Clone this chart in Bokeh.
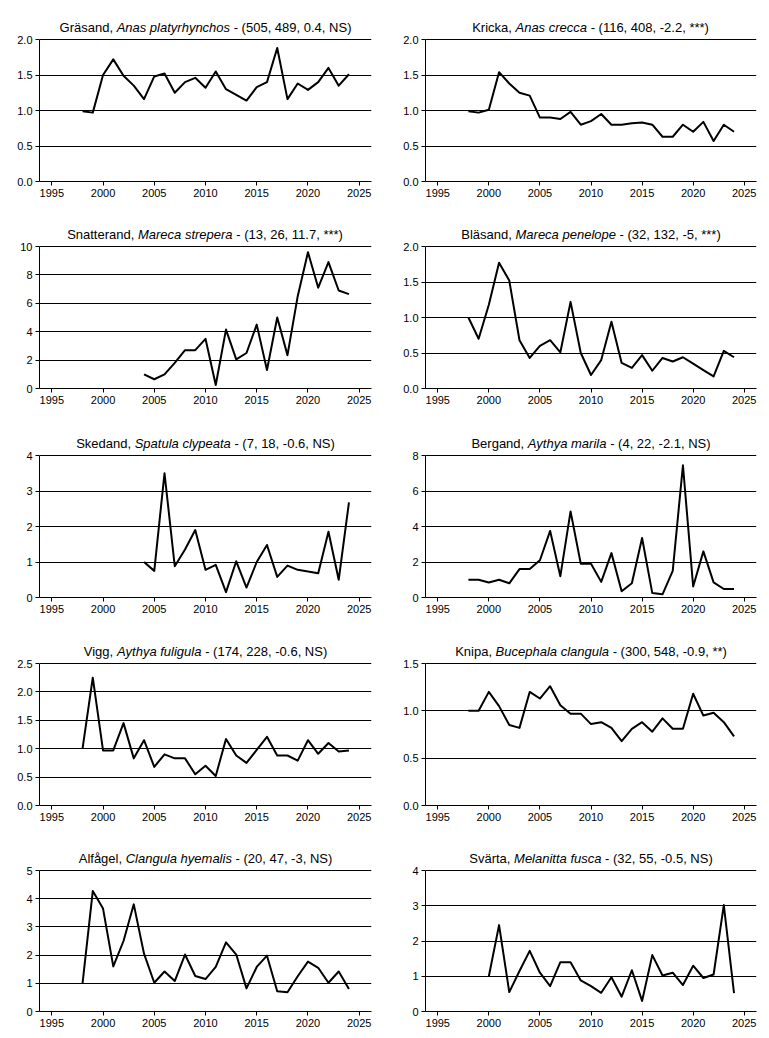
from bokeh.plotting import figure
from bokeh.layouts import gridplot
from bokeh.models import Range1d, FixedTicker, PrintfTickFormatter
from bokeh.core.properties import value
from bokeh.embed import file_html
from bokeh.resources import INLINE

# ---------------- data ----------------
years_98 = list(range(1998, 2025))
years_04 = list(range(2004, 2025))
years_00 = list(range(2000, 2025))

grasand = [0.99, 0.97, 1.50, 1.72, 1.49, 1.35, 1.16, 1.48, 1.52, 1.25, 1.40, 1.46, 1.32, 1.55,
           1.30, 1.22, 1.14, 1.33, 1.40, 1.88, 1.16, 1.38, 1.29, 1.40, 1.60, 1.35, 1.51]
kricka = [0.99, 0.97, 1.01, 1.54, 1.38, 1.25, 1.21, 0.90, 0.90, 0.88, 0.98, 0.80, 0.85, 0.95,
          0.80, 0.80, 0.82, 0.83, 0.80, 0.63, 0.63, 0.80, 0.70, 0.84, 0.57, 0.80, 0.70]
snatterand = [1.0, 0.65, 1.0, 1.8, 2.7, 2.7, 3.5, 0.25, 4.15, 2.05, 2.5, 4.5, 1.3, 5.0,
              2.35, 6.5, 9.6, 7.1, 8.9, 6.9, 6.65]
blasand = [1.0, 0.70, 1.18, 1.77, 1.52, 0.68, 0.43, 0.60, 0.68, 0.51, 1.22, 0.50, 0.19, 0.40,
           0.94, 0.36, 0.29, 0.47, 0.25, 0.43, 0.38, 0.44, 0.35, 0.26, 0.17, 0.53, 0.44]
skedand = [1.0, 0.75, 3.5, 0.88, 1.35, 1.9, 0.78, 0.92, 0.15, 1.02, 0.28, 1.0, 1.48, 0.58,
           0.90, 0.78, 0.73, 0.68, 1.85, 0.50, 2.68]
bergand = [1.0, 1.0, 0.85, 1.0, 0.8, 1.6, 1.6, 2.1, 3.75, 1.2, 4.85, 1.9, 1.9, 0.88,
           2.5, 0.35, 0.8, 3.35, 0.25, 0.18, 1.5, 7.45, 0.62, 2.6, 0.85, 0.48, 0.48]
vigg = [1.0, 2.25, 0.97, 0.97, 1.45, 0.83, 1.15, 0.68, 0.90, 0.83, 0.83, 0.55, 0.70, 0.52,
        1.17, 0.88, 0.75, 0.98, 1.21, 0.88, 0.88, 0.79, 1.15, 0.91, 1.10, 0.95, 0.97]
knipa = [1.0, 1.0, 1.20, 1.05, 0.85, 0.82, 1.20, 1.13, 1.26, 1.06, 0.97, 0.97, 0.86, 0.88,
         0.82, 0.68, 0.81, 0.88, 0.78, 0.92, 0.81, 0.81, 1.18, 0.95, 0.98, 0.88, 0.73]
alfagel = [1.0, 4.27, 3.65, 1.6, 2.5, 3.8, 2.05, 1.02, 1.42, 1.08, 2.02, 1.26, 1.15, 1.58,
           2.45, 2.02, 0.82, 1.58, 1.98, 0.72, 0.68, 1.25, 1.77, 1.55, 1.02, 1.42, 0.80]
svarta = [1.0, 2.45, 0.55, 1.15, 1.72, 1.10, 0.72, 1.40, 1.40, 0.88, 0.72, 0.53, 0.97, 0.42,
          1.17, 0.30, 1.60, 1.02, 1.10, 0.75, 1.30, 0.95, 1.05, 3.02, 0.52]

names = ["Gräsand, ", "Kricka, ", "Snatterand, ", "Bläsand, ", "Skedand, ",
         "Bergand, ", "Vigg, ", "Knipa, ", "Alfågel, ", "Svärta, "]
latin = ["Anas platyrhynchos", "Anas crecca", "Mareca strepera", "Mareca penelope",
         "Spatula clypeata", "Aythya marila", "Aythya fuligula", "Bucephala clangula",
         "Clangula hyemalis", "Melanitta fusca"]
stats = [" - (505, 489, 0.4, NS)", " - (116, 408, -2.2, ***)", " - (13, 26, 11.7, ***)",
         " - (32, 132, -5, ***)", " - (7, 18, -0.6, NS)", " - (4, 22, -2.1, NS)",
         " - (174, 228, -0.6, NS)", " - (300, 548, -0.9, **)", " - (20, 47, -3, NS)",
         " - (32, 55, -0.5, NS)"]
series_years = [years_98, years_98, years_04, years_98, years_04,
                years_98, years_98, years_98, years_98, years_00]
series_vals = [grasand, kricka, snatterand, blasand, skedand,
               bergand, vigg, knipa, alfagel, svarta]
y_max = [2.0, 2.0, 10, 2.0, 4, 8, 2.5, 1.5, 5, 4]
y_step = [0.5, 0.5, 2, 0.5, 1, 2, 0.5, 0.5, 1, 1]
y_fmt = ["%.1f", "%.1f", "%d", "%.1f", "%d", "%d", "%.1f", "%.1f", "%d", "%d"]
x_ticks = [1995, 2000, 2005, 2010, 2015, 2020, 2025]

# ---------------- layout helpers ----------------
FONT = "Liberation Sans"
TITLE_PX = 13
ADV = {' ': 278, ',': 278, '-': 333, '(': 333, ')': 333, '*': 389, '.': 278,
       'A': 667, 'B': 667, 'C': 722, 'G': 778, 'K': 667, 'M': 833, 'N': 722, 'S': 667, 'V': 667,
       'a': 556, 'b': 556, 'c': 500, 'd': 556, 'e': 556, 'f': 278, 'g': 556, 'h': 556, 'i': 222,
       'j': 222, 'k': 500, 'l': 222, 'm': 833, 'n': 556, 'o': 556, 'p': 556, 'q': 556, 'r': 333,
       's': 500, 't': 278, 'u': 556, 'v': 500, 'w': 722, 'x': 500, 'y': 500, 'z': 500,
       'ä': 556, 'å': 556}


def text_w(s):
    return sum(556 if ch.isdigit() else ADV.get(ch, 556) for ch in s) * TITLE_PX / 1000.0


X0, X1 = 1993.8, 2026.2
PLOT_H = [142, 142, 142, 142, 141]     # height of the data area
TITLE_H = 31                           # title strip inside the frame, above data area
TITLE_LIFT = 12.5                      # px between data-area top and title baseline
row_top = [8, 8, 9, 9, 8]
row_bottom = [26, 27, 26, 26, 26]

figs = []
for i in range(10):
    r, c = divmod(i, 2)
    if c == 0:
        bl, fw, br = 39, 332, 22
    else:
        bl, fw, br = 32, 331, 5
    ph = PLOT_H[r]
    fh = ph + TITLE_H
    ym = y_max[i]
    upp = ym / ph                       # data units per pixel (y)
    p = figure(frame_width=fw, frame_height=fh, min_border_left=bl, min_border_right=br,
               min_border_top=row_top[r], min_border_bottom=row_bottom[r],
               x_range=Range1d(X0, X1), y_range=Range1d(0, ym + TITLE_H * upp),
               output_backend="svg", toolbar_location=None)
    p.outline_line_color = None
    p.background_fill_color = "white"
    p.border_fill_color = "white"
    p.xgrid.visible = False
    yt = []
    v = 0.0
    while v <= ym + 1e-9:
        yt.append(round(v, 3))
        v += y_step[i]
    p.yaxis.ticker = FixedTicker(ticks=yt)
    p.yaxis.bounds = (0, ym)
    p.ygrid.ticker = FixedTicker(ticks=yt)
    p.ygrid.grid_line_color = "black"
    p.ygrid.grid_line_width = 1
    p.yaxis.formatter = PrintfTickFormatter(format=y_fmt[i])
    p.xaxis.ticker = FixedTicker(ticks=x_ticks)
    for ax in (p.xaxis, p.yaxis):
        ax.axis_line_color = "black"
        ax.axis_line_width = 1
        ax.major_tick_line_color = "black"
        ax.major_tick_out = 4
        ax.major_tick_in = 0
        ax.minor_tick_line_color = None
        ax.major_label_text_font = FONT
        ax.major_label_text_font_size = "11px"
        ax.major_label_text_color = "black"
    p.xaxis.major_label_standoff = 3
    p.yaxis.major_label_standoff = 3

    p.line(series_years[i], series_vals[i], line_width=2, line_color="black",
           line_join="round")

    # title in three parts (regular, italic, regular), centred over the data area
    parts = [(names[i], "normal"), (latin[i], "italic"), (stats[i], "normal")]
    total = sum(text_w(s) for s, _ in parts)
    k = (X1 - X0) / fw
    xc = (X0 + X1) / 2.0
    ty = ym + TITLE_LIFT * upp
    off = -total / 2.0
    for s, style in parts:
        lead = len(s) - len(s.lstrip(" "))
        shown = s.strip(" ")
        x_px = off + text_w(" " * lead)
        p.text(x=[xc + x_px * k], y=[ty], text=[shown], text_font=value(FONT),
               text_font_size="%dpx" % TITLE_PX, text_font_style=value(style),
               text_color="black", text_align="left", text_baseline="alphabetic")
        off += text_w(s)
    figs.append(p)

grid = gridplot([[figs[0], figs[1]], [figs[2], figs[3]], [figs[4], figs[5]],
                 [figs[6], figs[7]], [figs[8], figs[9]]], toolbar_location=None)

open("out.html", "w").write(file_html(grid, INLINE))
